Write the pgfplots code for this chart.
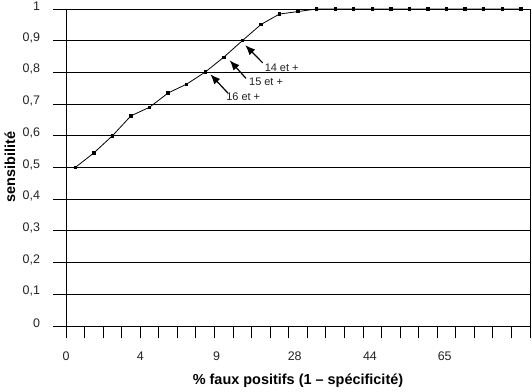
\documentclass[border=0pt]{standalone}
\usepackage{fontspec}
\setmainfont{Liberation Sans}
\usepackage{pgfplots}
\pgfplotsset{compat=1.18}
\usetikzlibrary{arrows.meta}
\definecolor{tl}{HTML}{222222}
\begin{document}
\begin{tikzpicture}
\begin{axis}[
  scale only axis, width=464bp, height=317bp,
  xmin=0, xmax=25, ymin=0, ymax=1,
  axis line style={black, line width=0.9bp},
  ytick={0,0.1,...,1.0},
  yticklabels={0,{0,1},{0,2},{0,3},{0,4},{0,5},{0,6},{0,7},{0,8},{0,9},1},
  ymajorgrids, grid style={black, line width=0.9bp},
  major tick length=12.5bp, tick align=outside,
  tick style={black, line width=0.9bp},
  ytick pos=left, xtick pos=bottom,
  yticklabel style={font=\fontsize{12.5}{14}\selectfont, text=tl, anchor=east, xshift=-10bp, yshift=3bp},
  xtick={0,1,...,25},
  xticklabels={0,,,,4,,,,{\hspace*{4bp}9},,,,{\hspace*{12bp}28},,,,{\hspace*{14bp}44},,,,{\hspace*{15bp}65},,,,,},
  xticklabel style={font=\fontsize{12.5}{14}\selectfont, text=tl, anchor=north, yshift=-10bp},
  clip=false,
]
\addplot[black, line width=0.8bp, mark=square*, mark size=1.2bp] coordinates {
(0.5,0.50) (1.5,0.546) (2.5,0.60) (3.5,0.663) (4.5,0.690) (5.5,0.735)
(6.5,0.763) (7.5,0.801) (8.5,0.848) (9.5,0.90) (10.5,0.951) (11.5,0.984)
(12.5,0.992) (13.5,1.0) (14.5,1.0) (15.5,1.0) (16.5,1.0) (17.5,1.0)
(18.5,1.0) (19.5,1.0) (20.5,1.0) (21.5,1.0) (22.5,1.0) (23.5,1.0) (24.5,1.0)
};
\draw[-{Latex[length=10bp,width=8bp]}, line width=1.2bp] (axis cs:10.6,0.830) -- (axis cs:9.66,0.886);
\draw[-{Latex[length=10bp,width=8bp]}, line width=1.2bp] (axis cs:9.70,0.781) -- (axis cs:8.82,0.838);
\draw[-{Latex[length=10bp,width=8bp]}, line width=1.2bp] (axis cs:8.72,0.735) -- (axis cs:7.78,0.794);
\node[font=\fontsize{11}{12}\selectfont, text=tl] at (axis cs:11.62,0.815) {14 et +};
\node[font=\fontsize{11}{12}\selectfont, text=tl] at (axis cs:10.78,0.769) {15 et +};
\node[font=\fontsize{11}{12}\selectfont, text=tl] at (axis cs:9.55,0.723) {16 et +};
\draw[black, line width=0.9bp] (axis cs:25,0) -- (axis cs:25,1);
\end{axis}
\node[font=\fontsize{14.5}{16}\selectfont\bfseries] at (232bp,-55bp) {\% faux positifs (1 – spécificité)};
\node[font=\fontsize{14.5}{16}\selectfont\bfseries, rotate=90] at (-56bp,159bp) {sensibilité};
\pgfresetboundingbox
\path[use as bounding box] (-66bp,-66bp) rectangle (466bp,326bp);
\end{tikzpicture}
\end{document}
